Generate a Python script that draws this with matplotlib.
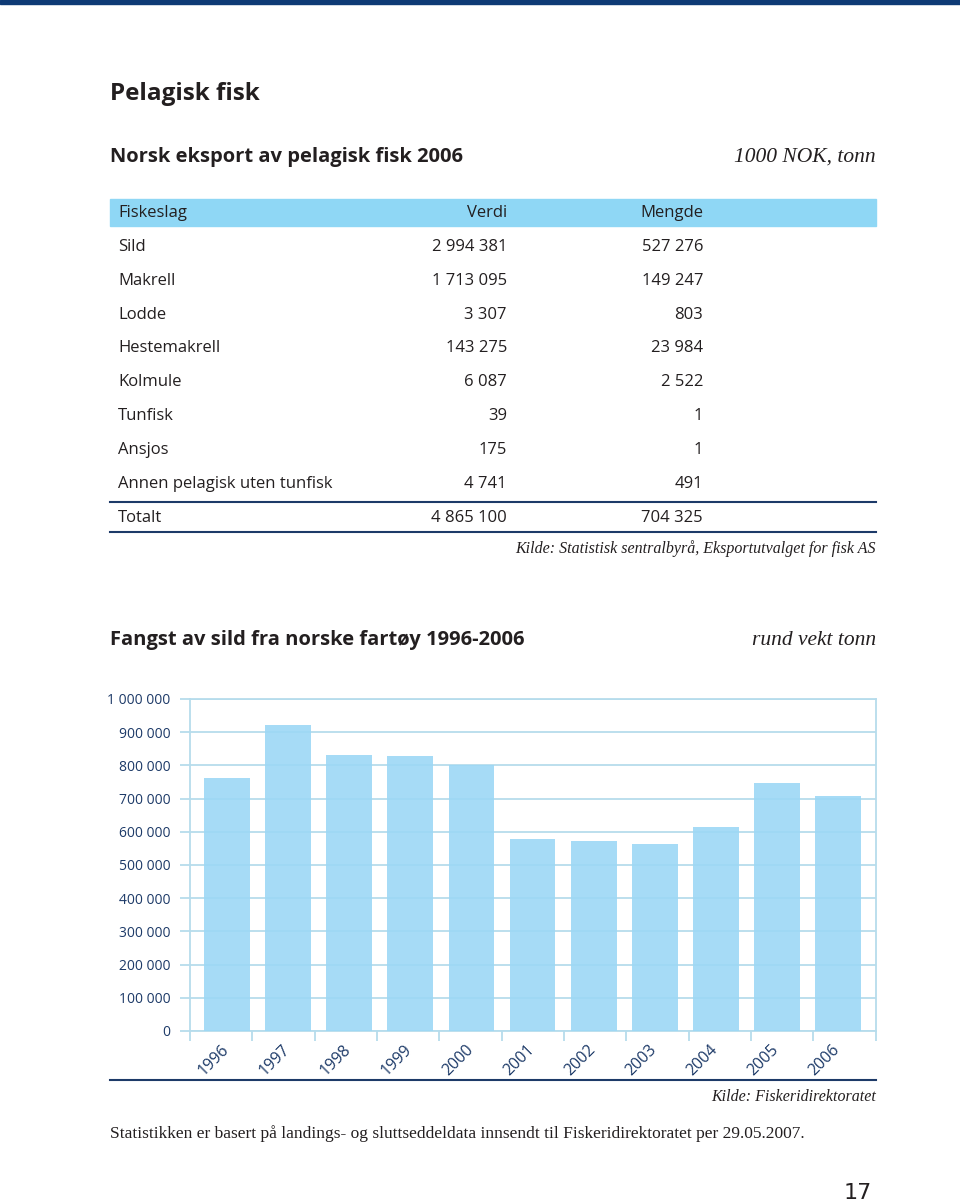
import matplotlib
matplotlib.use('Agg')
import matplotlib.pyplot as plt
import matplotlib.transforms as mtransforms
import numpy as np
from matplotlib.ticker import FuncFormatter

# data - tabell
fiskeslag = ['Sild', 'Makrell', 'Lodde', 'Hestemakrell', 'Kolmule', 'Tunfisk', 'Ansjos',
             'Annen pelagisk uten tunfisk']
verdi = ['2 994 381', '1 713 095', '3 307', '143 275', '6 087', '39', '175', '4 741']
mengde = ['527 276', '149 247', '803', '23 984', '2 522', '1', '1', '491']
total_verdi = '4 865 100'
total_mengde = '704 325'

# data - fangst av sild
years = ['1996', '1997', '1998', '1999', '2000', '2001', '2002', '2003', '2004', '2005', '2006']
fangst = [761000, 922000, 830000, 827000, 800000, 578000, 572000, 562000, 615000, 746000, 709000]

W, H = 960, 1204
SANS = 'Open Sans'
SERIF = 'Liberation Serif'
txt = '#231f20'
navy = '#1d3a68'
grid_c = '#b6dcec'
bar_c = '#9cd8f5'
TS = 12  # tabell tekst

fig = plt.figure(figsize=(9.6, 12.04), dpi=100)
fig.patch.set_facecolor('white')

def fy(y):
    return 1 - y / H

def fx(x):
    return x / W

# top border
fig.add_artist(plt.Rectangle((0, fy(3.5)), 1, 3.5 / H, color='#0e3a75', transform=fig.transFigure))

fig.text(fx(110), fy(100), 'Pelagisk fisk', family=SANS, weight='bold', size=17.5, color=txt, va='baseline')
fig.text(fx(110), fy(162), 'Norsk eksport av pelagisk fisk 2006', family=SANS, weight='bold', size=14.5,
         color=txt, va='baseline')
fig.text(fx(876), fy(162), '1000 NOK, tonn', family=SERIF, style='italic', size=15.5, color=txt,
         ha='right', va='baseline')

# table header
fig.add_artist(plt.Rectangle((fx(110), fy(226)), fx(876) - fx(110), 27 / H, color='#8fd7f5',
                             transform=fig.transFigure))
fig.text(fx(118), fy(213), 'Fiskeslag', family=SANS, size=TS, color=txt, va='center')
fig.text(fx(507), fy(213), 'Verdi', family=SANS, size=TS, color=txt, va='center', ha='right')
fig.text(fx(703), fy(213), 'Mengde', family=SANS, size=TS, color=txt, va='center', ha='right')

for i in range(len(fiskeslag)):
    y = 247 + i * 33.8
    fig.text(fx(118), fy(y), fiskeslag[i], family=SANS, size=TS, color=txt, va='center')
    fig.text(fx(507), fy(y), verdi[i], family=SANS, size=TS, color=txt, va='center', ha='right')
    fig.text(fx(703), fy(y), mengde[i], family=SANS, size=TS, color=txt, va='center', ha='right')

for yl in [502, 532]:
    fig.add_artist(plt.Line2D([fx(110), fx(876)], [fy(yl), fy(yl)], color=navy, lw=1.5,
                              transform=fig.transFigure))
fig.text(fx(118), fy(518), 'Totalt', family=SANS, size=TS, color=txt, va='center')
fig.text(fx(507), fy(518), total_verdi, family=SANS, size=TS, color=txt, va='center', ha='right')
fig.text(fx(703), fy(518), total_mengde, family=SANS, size=TS, color=txt, va='center', ha='right')
fig.text(fx(876), fy(553), 'Kilde: Statistisk sentralbyrå, Eksportutvalget for fisk AS', family=SERIF,
         style='italic', size=11.5, color=txt, ha='right', va='baseline')

# chart title
fig.text(fx(110), fy(645), 'Fangst av sild fra norske fartøy 1996-2006', family=SANS, weight='bold',
         size=14.5, color=txt, va='baseline')
fig.text(fx(876), fy(645), 'rund vekt tonn', family=SERIF, style='italic', size=15.5, color=txt,
         ha='right', va='baseline')

# bar chart
ax = fig.add_axes([fx(190), fy(1031), (875.7 - 190) / W, (1031 - 699) / H])
x = np.arange(len(years))
ax.bar(x, fangst, width=0.75, color=bar_c, alpha=0.9, zorder=3, linewidth=0)
ax.set_ylim(0, 1000000)
ax.set_xlim(-0.606, 10.617)
ax.set_yticks(np.arange(0, 1000001, 100000))
ax.yaxis.set_major_formatter(FuncFormatter(lambda v, p: '{:,}'.format(int(v)).replace(',', ' ')))
ax.grid(axis='y', color=grid_c, lw=1.3, zorder=1)
for s in ax.spines.values():
    s.set_color(grid_c)
    s.set_linewidth(1.3)
ax.tick_params(axis='y', colors=grid_c, length=7, width=1.3, pad=7, labelcolor=navy, labelsize=10)
for lab in ax.get_yticklabels():
    lab.set_family(SANS)

ax.set_xticks(x)
ax.set_xticklabels(years, rotation=45, ha='right', family=SANS, size=11.5, color=navy)
ax.tick_params(axis='x', length=0, pad=8)
shift = mtransforms.ScaledTranslation(5 / 100, 0, fig.dpi_scale_trans)
for lab in ax.get_xticklabels():
    lab.set_transform(lab.get_transform() + shift)
lo, hi = ax.get_xlim()
ax.set_xticks(np.linspace(lo, hi, len(years) + 1), minor=True)
ax.tick_params(axis='x', which='minor', length=7, width=1.3, color=grid_c)

# source line and footer
fig.add_artist(plt.Line2D([fx(110), fx(876)], [fy(1080), fy(1080)], color=navy, lw=1.5,
                          transform=fig.transFigure))
fig.text(fx(876), fy(1101), 'Kilde: Fiskeridirektoratet', family=SERIF, style='italic', size=11.5,
         color=txt, ha='right', va='baseline')
fig.text(fx(110), fy(1138), 'Statistikken er basert på landings- og sluttseddeldata innsendt til '
         'Fiskeridirektoratet per 29.05.2007.', family=SERIF, size=12.5, color=txt, va='baseline')
fig.text(fx(872), fy(1199), '17', family='Liberation Sans Narrow', size=16, color=txt, ha='right',
         va='baseline')

fig.savefig('out.png', dpi=100)
